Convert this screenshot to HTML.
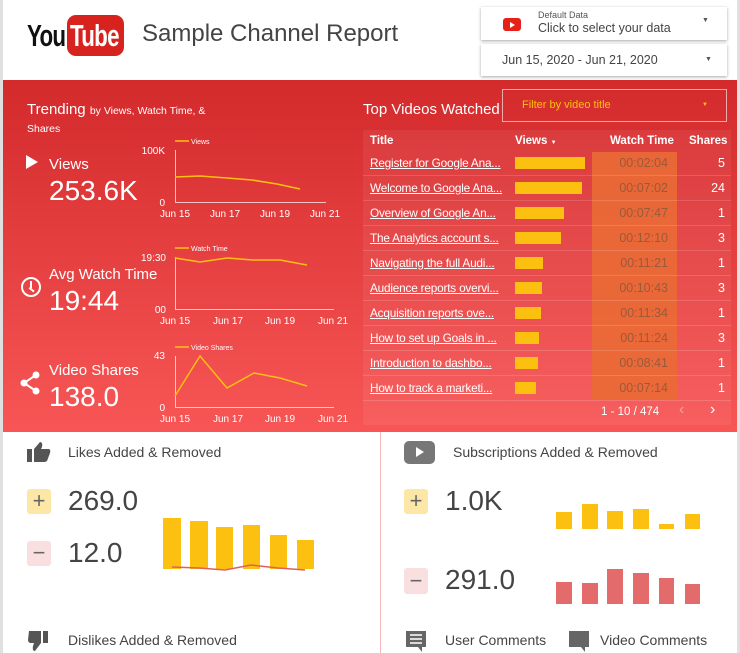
<!DOCTYPE html>
<html><head><meta charset="utf-8"><style>
*{margin:0;padding:0;box-sizing:border-box}
body{width:740px;height:653px;overflow:hidden;background:#fff;font-family:"Liberation Sans",sans-serif;position:relative;color:#424242}
.a{position:absolute;white-space:nowrap}
.red{position:absolute;left:3px;top:80px;width:734px;height:352px;background:linear-gradient(#d32a2c,#f85656)}
.dd{position:absolute;left:481px;width:246px;background:#fff;box-shadow:0 1px 3px rgba(0,0,0,.35)}
.tbl{position:absolute;left:363px;top:130px;width:368px;height:295px;background:rgba(255,255,255,.06)}
.row{position:absolute;left:363px;width:368px;height:25px;border-bottom:1px solid rgba(255,255,255,.15);font-size:12.5px;color:#fff}
.row .t{position:absolute;left:7px;top:5px;text-decoration:underline;font-size:11.8px;letter-spacing:-0.2px}
.row .b{position:absolute;left:152px;top:6px;height:12px;background:#fbc010}
.row .w{position:absolute;left:235px;width:70px;top:5px;text-align:right;color:#9a5a3a}
.row .s{position:absolute;right:6px;top:5px}
.lg{position:absolute;font:bold 31px 'Liberation Sans',sans-serif;transform:scaleX(0.72);transform-origin:0 0;letter-spacing:-1px}
</style></head><body>
<div class="a" style="left:0;top:0;width:3px;height:653px;background:#e0e0e0"></div>
<div class="a" style="left:737px;top:0;width:3px;height:653px;background:#e0e0e0"></div>
<!-- logo -->
<div class="lg" style="left:27px;top:18px;color:#111">You</div>
<div class="a" style="left:67px;top:15px;width:57px;height:41px;background:#d8221d;border-radius:9px"></div>
<div class="lg" style="left:70px;top:18px;color:#fff">Tube</div>
<div class="a" style="left:142px;top:20px;font-size:24px;color:#444">Sample Channel Report</div>
<div class="dd" style="top:7px;height:33px">
 <div class="a" style="left:22px;top:11px;width:18px;height:13px;background:#e62117;border-radius:3px"></div>
 <div class="a" style="left:29px;top:15px;border-left:5px solid #fff;border-top:3px solid transparent;border-bottom:3px solid transparent"></div>
 <div class="a" style="left:57px;top:3px;font-size:9px;color:#555">Default Data</div>
 <div class="a" style="left:57px;top:14px;font-size:12.5px;color:#444">Click to select your data</div>
 <div class="a" style="left:221px;top:10px;font-size:7px;color:#555">▼</div>
</div>
<div class="dd" style="top:44px;height:32px">
 <div class="a" style="left:21px;top:9px;font-size:12.5px;color:#444">Jun 15, 2020 - Jun 21, 2020</div>
 <div class="a" style="left:224px;top:12px;font-size:7px;color:#555">▼</div>
</div>
<div class="red"></div>
<div class="a" style="left:27px;top:101px;font-size:15px;color:#fff">Trending <span style="font-size:10.5px">by Views, Watch Time, &amp;</span></div>
<div class="a" style="left:27px;top:123px;font-size:10.5px;color:#fff">Shares</div>
<div class="a" style="left:26px;top:155px;border-left:12px solid #fff;border-top:7px solid transparent;border-bottom:7px solid transparent"></div>
<div class="a" style="left:49px;top:156px;font-size:15px;color:#fff">Views</div>
<div class="a" style="left:49px;top:175px;font-size:28px;color:#fff">253.6K</div>
<div class="a" style="left:21px;top:277px;width:20px;height:20px;border:2px solid #fff;border-radius:50%"></div>
<div class="a" style="left:30px;top:281px;width:2px;height:7px;background:#fff"></div>
<div class="a" style="left:30px;top:287px;width:6px;height:2px;background:#fff;transform:rotate(40deg);transform-origin:0 0"></div>
<div class="a" style="left:49px;top:266px;font-size:15px;color:#fff">Avg Watch Time</div>
<div class="a" style="left:49px;top:285px;font-size:28px;color:#fff">19:44</div>
<svg class="a" style="left:20px;top:371px" width="22" height="24"><circle cx="16" cy="4" r="3.5" fill="#fff"/><circle cx="4" cy="12" r="3.5" fill="#fff"/><circle cx="16" cy="20" r="3.5" fill="#fff"/><path d="M16 4L4 12L16 20" stroke="#fff" stroke-width="2" fill="none"/></svg>
<div class="a" style="left:49px;top:362px;font-size:15px;color:#fff">Video Shares</div>
<div class="a" style="left:49px;top:381px;font-size:28px;color:#fff">138.0</div>
<svg class="a" style="left:0;top:0" width="360" height="430" font-family="Liberation Sans" fill="#fff">
 <g stroke="rgba(255,255,255,.7)" stroke-width="1" fill="none">
  <path d="M175.5 150V202.5H326"/><path d="M175.5 257V309.5H334"/><path d="M175.5 356V407.5H334"/>
 </g>
 <g stroke="#fbc010" stroke-width="1.5" fill="none">
  <path d="M175 177L200 176L227 178L252 180L277 184L300 189"/>
  <path d="M175 258L200 262L227 258L253 260L280 260L307 265"/>
  <path d="M175 396L200 356L227 388L254 373L280 378L307 386"/>
  <path d="M175 141h14M175 248h14M175 347h14"/>
 </g>
 <g font-size="7"><text x="191" y="144">Views</text><text x="191" y="251">Watch Time</text><text x="191" y="350">Video Shares</text></g>
 <g font-size="10" text-anchor="end"><text x="165" y="154">100K</text><text x="165" y="206">0</text><text x="166" y="261">19:30</text><text x="166" y="313">00</text><text x="165" y="359">43</text><text x="165" y="411">0</text></g>
 <g font-size="10" text-anchor="middle">
  <text x="175" y="217">Jun 15</text><text x="225" y="217">Jun 17</text><text x="275" y="217">Jun 19</text><text x="325" y="217">Jun 21</text>
  <text x="175" y="324">Jun 15</text><text x="228" y="324">Jun 17</text><text x="280" y="324">Jun 19</text><text x="333" y="324">Jun 21</text>
  <text x="175" y="422">Jun 15</text><text x="228" y="422">Jun 17</text><text x="280" y="422">Jun 19</text><text x="333" y="422">Jun 21</text>
 </g>
</svg>
<div class="a" style="left:363px;top:101px;font-size:15px;color:#fff">Top Videos Watched</div>
<div class="a" style="left:502px;top:89px;width:225px;height:33px;border:1px solid rgba(255,255,255,.6)"></div>
<div class="a" style="left:522px;top:99px;font-size:11px;color:#fbc010">Filter by video title</div>
<div class="a" style="left:702px;top:102px;font-size:6px;color:#fbc010">▼</div>
<div class="tbl"></div>
<div class="a" style="left:592px;top:152px;width:85px;height:248px;background:#ea6a35;opacity:.9"></div>
<div class="a" style="left:370px;top:135px;font-size:11.5px;font-weight:bold;color:#fff">Title</div>
<div class="a" style="left:515px;top:135px;font-size:11.5px;font-weight:bold;color:#fff">Views <span style="font-size:6px">▼</span></div>
<div class="a" style="left:610px;top:135px;font-size:11.5px;font-weight:bold;color:#fff">Watch Time</div>
<div class="a" style="left:689px;top:135px;font-size:11.5px;font-weight:bold;color:#fff">Shares</div>
<div class="row" style="top:151px"><span class="t">Register for Google Ana...</span><span class="b" style="width:70px"></span><span class="w">00:02:04</span><span class="s">5</span></div>
<div class="row" style="top:176px"><span class="t">Welcome to Google Ana...</span><span class="b" style="width:67px"></span><span class="w">00:07:02</span><span class="s">24</span></div>
<div class="row" style="top:201px"><span class="t">Overview of Google An...</span><span class="b" style="width:49px"></span><span class="w">00:07:47</span><span class="s">1</span></div>
<div class="row" style="top:226px"><span class="t">The Analytics account s...</span><span class="b" style="width:46px"></span><span class="w">00:12:10</span><span class="s">3</span></div>
<div class="row" style="top:251px"><span class="t">Navigating the full Audi...</span><span class="b" style="width:28px"></span><span class="w">00:11:21</span><span class="s">1</span></div>
<div class="row" style="top:276px"><span class="t">Audience reports overvi...</span><span class="b" style="width:27px"></span><span class="w">00:10:43</span><span class="s">3</span></div>
<div class="row" style="top:301px"><span class="t">Acquisition reports ove...</span><span class="b" style="width:26px"></span><span class="w">00:11:34</span><span class="s">1</span></div>
<div class="row" style="top:326px"><span class="t">How to set up Goals in ...</span><span class="b" style="width:24px"></span><span class="w">00:11:24</span><span class="s">3</span></div>
<div class="row" style="top:351px"><span class="t">Introduction to dashbo...</span><span class="b" style="width:23px"></span><span class="w">00:08:41</span><span class="s">1</span></div>
<div class="row" style="top:376px"><span class="t">How to track a marketi...</span><span class="b" style="width:21px"></span><span class="w">00:07:14</span><span class="s">1</span></div>
<div class="a" style="left:601px;top:406px;font-size:11.5px;color:#fff">1 - 10 / 474</div>
<div class="a" style="left:679px;top:401px;font-size:16px;color:rgba(255,255,255,.4)">&#x2039;</div>
<div class="a" style="left:710px;top:401px;font-size:16px;color:#fff">&#x203A;</div>
<!-- bottom -->
<div class="a" style="left:380px;top:432px;width:1px;height:221px;background:#f4b8b8"></div>
<svg class="a" style="left:27px;top:442px" width="24" height="20"><rect x="0" y="7" width="5" height="13" fill="#555"/><path d="M7 7L13 0Q16 0 15 5L14 7H22Q24 8 23 11L20 19Q19 20 17 20H7Z" fill="#555"/></svg>
<div class="a" style="left:68px;top:444px;font-size:14px;color:#444">Likes Added &amp; Removed</div>
<div class="a" style="left:27px;top:489px;width:24px;height:25px;background:#fde7a6;border-radius:3px;font-size:22px;text-align:center;line-height:24px;color:#666">+</div>
<div class="a" style="left:68px;top:485px;font-size:28px;color:#444">269.0</div>
<div class="a" style="left:27px;top:541px;width:24px;height:25px;background:#f9dfdf;border-radius:3px;font-size:22px;text-align:center;line-height:24px;color:#666">−</div>
<div class="a" style="left:68px;top:537px;font-size:28px;color:#444">12.0</div>
<svg class="a" style="left:0;top:430px" width="740" height="223">
 <g fill="#fbc010"><rect x="163" y="88" width="18" height="51"/><rect x="190" y="91" width="18" height="48"/><rect x="216" y="97" width="17" height="42"/><rect x="243" y="95" width="17" height="44"/><rect x="270" y="105" width="17" height="34"/><rect x="297" y="110" width="17" height="29"/></g>
 <path d="M172 137L199 138L225 140L251 135L278 138L305 140" stroke="#e06060" stroke-width="1.5" fill="none"/>
 <g fill="#fbc010"><rect x="556" y="82" width="16" height="17"/><rect x="582" y="74" width="16" height="25"/><rect x="607" y="81" width="16" height="18"/><rect x="633" y="79" width="16" height="20"/><rect x="659" y="94" width="15" height="5"/><rect x="685" y="84" width="15" height="15"/></g>
 <g fill="#e36b6b"><rect x="556" y="152" width="16" height="22"/><rect x="582" y="153" width="16" height="21"/><rect x="607" y="139" width="16" height="35"/><rect x="633" y="143" width="16" height="31"/><rect x="659" y="148" width="15" height="26"/><rect x="685" y="154" width="15" height="20"/></g>
</svg>
<div class="a" style="left:404px;top:441px;width:31px;height:23px;background:#777;border-radius:5px"></div>
<div class="a" style="left:416px;top:447px;border-left:8px solid #fff;border-top:5px solid transparent;border-bottom:5px solid transparent"></div>
<div class="a" style="left:453px;top:444px;font-size:14px;color:#444">Subscriptions Added &amp; Removed</div>
<div class="a" style="left:404px;top:489px;width:24px;height:25px;background:#fde7a6;border-radius:3px;font-size:22px;text-align:center;line-height:24px;color:#666">+</div>
<div class="a" style="left:445px;top:485px;font-size:28px;color:#444">1.0K</div>
<div class="a" style="left:404px;top:568px;width:24px;height:26px;background:#f9dfdf;border-radius:3px;font-size:22px;text-align:center;line-height:25px;color:#666">−</div>
<div class="a" style="left:445px;top:564px;font-size:28px;color:#444">291.0</div>
<svg class="a" style="left:27px;top:629px" width="24" height="24"><path d="M2 2H14V14L8 22Q5 22 6 17L7 14H3Q1 13 1 11Z" fill="#555"/><rect x="16" y="2" width="5" height="12" fill="#555"/></svg>
<div class="a" style="left:68px;top:632px;font-size:14px;color:#444">Dislikes Added &amp; Removed</div>
<svg class="a" style="left:405px;top:630px" width="22" height="23"><path d="M1 1H21V17H17V22L13 17H1Z" fill="#666"/><path d="M5 5H17M5 9H17M5 13H17" stroke="#fff" stroke-width="1.5"/></svg>
<div class="a" style="left:445px;top:632px;font-size:14px;color:#444">User Comments</div>
<svg class="a" style="left:568px;top:630px" width="22" height="23"><path d="M1 1H21V17H17V22L13 17H1Z" fill="#666"/></svg>
<div class="a" style="left:600px;top:632px;font-size:14px;color:#444">Video Comments</div>
</body></html>
